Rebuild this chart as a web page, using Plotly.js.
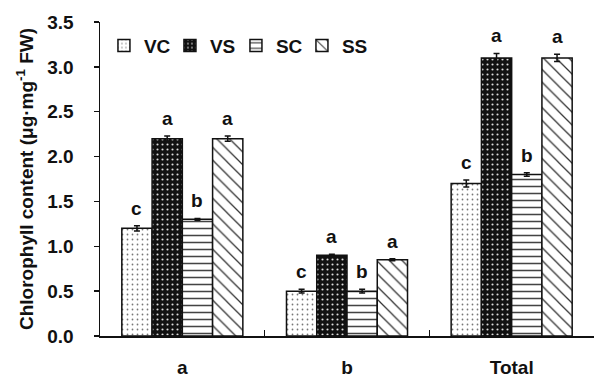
<!DOCTYPE html>
<html><head><meta charset="utf-8">
<script src="https://cdn.plot.ly/plotly-3.0.1.min.js"></script>
<style>html,body{margin:0;padding:0;background:#fff}</style>
</head><body>
<div id="chart" style="width:594px;height:378px"></div>
<script>
const categories = ["a", "b", "Total"];
const seriesNames = ["VC", "VS", "SC", "SS"];
const VC = [1.20, 0.50, 1.70];
const VS = [2.20, 0.90, 3.10];
const SC = [1.30, 0.50, 1.80];
const SS = [2.20, 0.85, 3.10];
const VC_err = [0.03, 0.02, 0.04];
const VS_err = [0.03, 0.01, 0.05];
const SC_err = [0.01, 0.02, 0.02];
const SS_err = [0.03, 0.01, 0.04];
const VC_letters = ["c", "c", "c"];
const VS_letters = ["a", "a", "a"];
const SC_letters = ["b", "b", "b"];
const SS_letters = ["a", "a", "a"];

const values = [VC, VS, SC, SS];
const errs = [VC_err, VS_err, SC_err, SS_err];
const letters = [VC_letters, VS_letters, SC_letters, SS_letters];

const patterns = [
  {shape: ".", fgcolor: "#777", bgcolor: "#fff", size: 5, solidity: 0.1},
  {shape: ".", fgcolor: "#ddd", bgcolor: "#111", size: 5, solidity: 0.14},
  {shape: "-", fgcolor: "#444", bgcolor: "#fff", size: 7, solidity: 0.22},
  {shape: "\\", fgcolor: "#333", bgcolor: "#fff", size: 9, solidity: 0.14}
];

const FONT = "Liberation Sans, Arial, sans-serif";
const W = 594, H = 378;
const margin = {l: 100, r: 0, t: 22, b: 42};
const bargap = 0.265;
const plotW = W - margin.l - margin.r;
const barPx = plotW / categories.length * (1 - bargap) / seriesNames.length;

const traces = seriesNames.map((name, i) => ({
  type: "bar",
  name: name,
  x: categories,
  y: values[i],
  marker: {
    color: patterns[i].bgcolor,
    line: {color: "#111", width: 1.5},
    pattern: Object.assign({fillmode: "replace"}, patterns[i])
  },
  error_y: {type: "data", array: errs[i], visible: true, color: "#111", thickness: 1.5, width: 3}
}));

const annotations = [];
seriesNames.forEach((name, i) => {
  categories.forEach((c, j) => {
    annotations.push({
      x: c, y: values[i][j] + errs[i][j], xref: "x", yref: "y",
      text: "<b>" + letters[i][j] + "</b>", showarrow: false,
      yanchor: "bottom", yshift: 5,
      xshift: (i - (seriesNames.length - 1) / 2) * barPx,
      font: {family: FONT, size: 19, color: "#111"}
    });
  });
});

const layout = {
  width: W, height: H, margin: margin,
  paper_bgcolor: "#fff", plot_bgcolor: "#fff",
  barmode: "group", bargap: bargap, bargroupgap: 0,
  font: {family: FONT, color: "#111"},
  showlegend: true,
  legend: {
    orientation: "h", x: 0.008, y: 0.985, xanchor: "left", yanchor: "top",
    font: {family: FONT, size: 19, color: "#111", weight: "bold"},
    bgcolor: "rgba(0,0,0,0)", itemwidth: 30, entrywidth: 21, entrywidthmode: "pixels",
    traceorder: "normal"
  },
  xaxis: {
    type: "category", showline: true, linecolor: "#111", linewidth: 1.5,
    ticks: "inside", tickson: "boundaries", ticklen: 6, tickwidth: 1.5, tickcolor: "#111",
    tickfont: {family: FONT, size: 19, color: "#111", weight: "bold"},
    ticklabelstandoff: 14, showgrid: false, zeroline: false
  },
  yaxis: {
    range: [0, 3.5], dtick: 0.5, tickformat: ".1f",
    showline: true, linecolor: "#111", linewidth: 1.5,
    ticks: "outside", ticklen: 5, tickwidth: 1.5, tickcolor: "#111",
    tickfont: {family: FONT, size: 19, color: "#111", weight: "bold"},
    ticklabelstandoff: 16, showgrid: false, zeroline: false,
    title: {text: "Chlorophyll content (μg·mg<sup>-1</sup> FW)", font: {family: FONT, size: 19, color: "#111", weight: "bold"}, standoff: 8}
  },
  annotations: annotations
};

Plotly.newPlot("chart", traces, layout, {displayModeBar: false, staticPlot: true});
</script>
</body></html>
